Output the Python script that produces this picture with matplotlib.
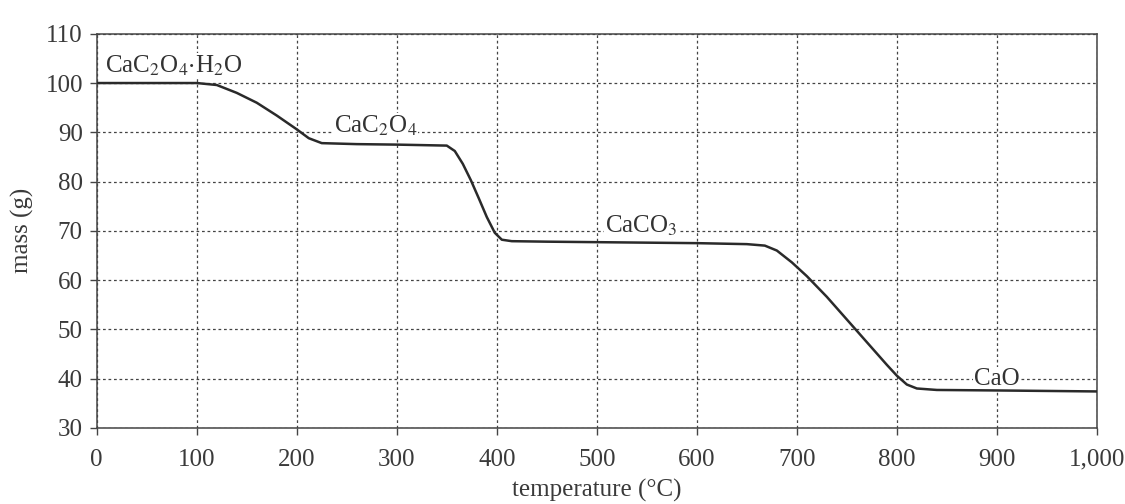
import matplotlib
matplotlib.use("Agg")
import matplotlib.pyplot as plt
from matplotlib.ticker import FuncFormatter

plt.rcParams['font.family'] = ['Liberation Serif', 'DejaVu Serif']
plt.rcParams['mathtext.fontset'] = 'stix'

# thermogravimetric curve of calcium oxalate monohydrate
temperature = [0, 50, 100, 120, 140, 160, 180, 200, 212, 225, 260, 300, 350,
               358, 366, 374, 382, 390, 398, 405, 415, 450, 500, 550, 600,
               650, 668, 680, 695, 710, 730, 750, 770, 790, 800, 810, 820,
               840, 900, 950, 1000]
mass = [100, 100, 100, 99.6, 98.0, 96.0, 93.4, 90.6, 88.8, 87.8, 87.6, 87.5, 87.3,
        86.2, 83.6, 80.3, 76.6, 72.8, 69.6, 68.2, 67.9, 67.8, 67.7, 67.6, 67.5,
        67.3, 67.0, 66.0, 63.6, 60.8, 56.6, 52.0, 47.4, 42.8, 40.6, 38.8, 38.0,
        37.7, 37.6, 37.5, 37.4]

labels = [r'CaC$_2$O$_4$$\cdot$H$_2$O', r'CaC$_2$O$_4$', r'CaCO$_3$', 'CaO']
label_x = [8, 237, 508, 877]
label_y = [103.4, 91.4, 71.0, 40.0]

xticks = list(range(0, 1001, 100))
yticks = list(range(30, 111, 10))

fig = plt.figure(figsize=(11.25, 5.04), dpi=100)
ax = fig.add_axes([0.086, 0.151, 0.889, 0.782])

ax.plot(temperature, mass, color='#2a2a2a', linewidth=1.8, zorder=3)

# labels hide the grid behind them but stay under the curve
for txt, x, y in zip(labels, label_x, label_y):
    ax.text(x, y, txt, fontsize=18, color='#333333', va='center', ha='left',
            bbox=dict(facecolor='white', edgecolor='none', pad=0.5), zorder=2.5)

ax.set_xlim(0, 1000)
ax.set_ylim(30, 110)
ax.set_xticks(xticks)
ax.set_yticks(yticks)
ax.xaxis.set_major_formatter(FuncFormatter(lambda v, p: f"{int(v):,}"))

ax.grid(True, color='#444444', linestyle=(0, (2.2, 2.2)), linewidth=0.9)
ax.set_axisbelow(True)
for s in ax.spines.values():
    s.set_color('#444444')
    s.set_linewidth(1.1)

ax.tick_params(direction='out', length=5, width=1, colors='#444444',
               labelsize=18, labelcolor='#3a3a3a')
ax.tick_params(axis='x', pad=10)
ax.tick_params(axis='y', pad=5)

ax.set_xlabel('temperature (°C)', fontsize=18, color='#3a3a3a', labelpad=6)
ax.set_ylabel('mass (g)', fontsize=18, color='#3a3a3a', labelpad=8)

fig.savefig('out.png', dpi=100, facecolor='white')
